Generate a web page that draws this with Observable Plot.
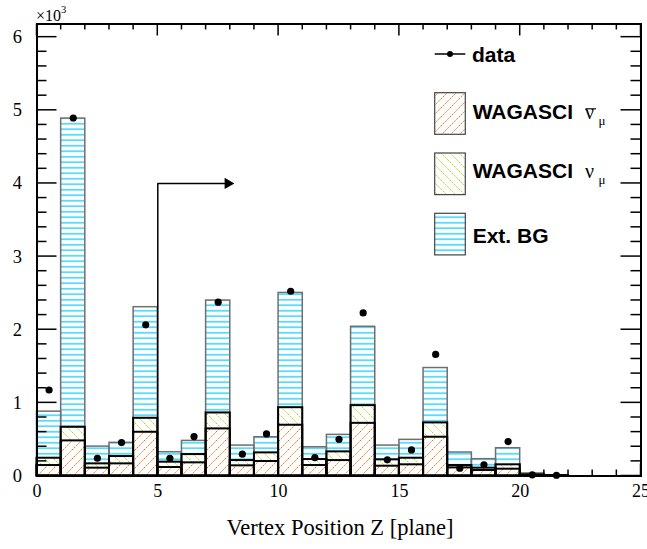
<!DOCTYPE html>
<html>
<head>
<meta charset="utf-8">
<script src="https://cdn.jsdelivr.net/npm/d3@7"></script>
<script src="https://cdn.jsdelivr.net/npm/@observablehq/plot@0.6"></script>
<style>
  html, body { margin: 0; padding: 0; background: #fff; }
  #chart svg { display: block; }
</style>
</head>
<body>
<div id="chart"></div>
<script>
// Vertex position (plane number) of selected events, stacked MC vs data
const planes   = [0, 1, 2, 3, 4, 5, 6, 7, 8, 9, 10, 11, 12, 13, 14, 15, 16, 17, 18, 19, 20, 21];
const antiNumu = [143, 480, 107, 166, 598, 116, 180, 644, 139, 198, 694, 143, 211, 720, 134, 153, 530, 111, 75, 93, 10, 3];
const numu     = [100, 186, 59, 100, 191, 73, 113, 218, 72, 118, 240, 82, 119, 242, 87, 90, 196, 32, 32, 60, 5, 2];
const extBG    = [637, 4221, 236, 187, 1519, 136, 187, 1537, 205, 214, 1569, 168, 232, 1078, 195, 251, 750, 178, 123, 227, 20, 3];
const observed = [1176, 4895, 243, 457, 2067, 243, 539, 2376, 298, 575, 2526, 252, 502, 2230, 221, 357, 1662, 107, 153, 471, 16, 10];

// fiducial cut marker: starts at plane 5 and points downstream
const cutArrow = [{x: 5, y: 0}, {x: 5, y: 4000}, {x: 7.9, y: 4000}];

const xMajor = [0, 5, 10, 15, 20, 25];
const xMinor = d3.range(0, 26, 1);
const yMajor = [0, 1000, 2000, 3000, 4000, 5000, 6000];
const yMinor = d3.range(0, 6001, 200);
const yMax = 6180;

const rows = planes.map((p, i) => {
  const a = antiNumu[i], n = numu[i], e = extBG[i];
  return {
    lo: p, hi: p + 1, mid: p + 0.5, zero: 0,
    anti: a, cumNu: a + n, total: a + n + e, data: observed[i]
  };
});

const serif = "'Liberation Serif', 'Times New Roman', serif";
const sans = "'Liberation Sans', Arial, Helvetica, sans-serif";

const chart = Plot.plot({
  width: 647,
  height: 549,
  marginLeft: 36.5,
  marginRight: 6.5,
  marginTop: 23.5,
  marginBottom: 73.5,
  style: {fontFamily: serif, fontSize: "18px", background: "#fff", color: "#000", overflow: "visible"},
  x: {domain: [0, 25]},
  y: {domain: [0, yMax]},
  marks: [
    // hatched bands
    Plot.rect(rows, {x1: "lo", x2: "hi", y1: "zero", y2: "anti", fill: "url(#hatch-anti)"}),
    Plot.rect(rows, {x1: "lo", x2: "hi", y1: "anti", y2: "cumNu", fill: "url(#hatch-nu)"}),
    Plot.rect(rows, {x1: "lo", x2: "hi", y1: "cumNu", y2: "total", fill: "url(#hatch-ext)"}),
    // histogram outlines of the cumulative stack
    Plot.rect(rows, {x1: "lo", x2: "hi", y1: "zero", y2: "total", fill: "none", stroke: "#6f6f6f", strokeWidth: 1.5}),
    Plot.rect(rows, {x1: "lo", x2: "hi", y1: "zero", y2: "cumNu", fill: "none", stroke: "#000", strokeWidth: 2}),
    Plot.rect(rows, {x1: "lo", x2: "hi", y1: "zero", y2: "anti", fill: "none", stroke: "#000", strokeWidth: 2}),
    // cut arrow
    Plot.line(cutArrow, {x: "x", y: "y", stroke: "#000", strokeWidth: 1.5}),
    Plot.dot(cutArrow.slice(-1), {x: "x", y: "y", symbol: "triangle", rotate: 90, r: 4.2, fill: "#000", stroke: "none"}),
    // data
    Plot.dot(rows, {x: "mid", y: "data", r: 3.6, fill: "#000", stroke: "none"}),
    Plot.frame({stroke: "#000", strokeWidth: 2}),
    Plot.axisX(xMajor, {anchor: "bottom", tickSize: 0, tickPadding: 8, fontSize: 18, fontFamily: serif, label: null}),
    Plot.axisY(yMajor, {anchor: "left", tickSize: 0, tickPadding: 15, fontSize: 18.5, fontFamily: serif, tickFormat: d => String(d / 1000), label: null})
  ]
});

document.getElementById("chart").appendChild(chart);

const svg = d3.select(chart);
const xs = chart.scale("x"), ys = chart.scale("y");

// hatch patterns
const defs = svg.insert("defs", ":first-child");
const anti = defs.append("pattern").attr("id", "hatch-anti")
  .attr("patternUnits", "userSpaceOnUse").attr("width", 9).attr("height", 9);
anti.append("path").attr("d", "M0,9 L9,0 M-2,2 L2,-2 M7,11 L11,7")
  .attr("stroke", "#ff6a00").attr("stroke-width", 1).attr("stroke-dasharray", "1.8 1.2").attr("fill", "none");
const nu = defs.append("pattern").attr("id", "hatch-nu")
  .attr("patternUnits", "userSpaceOnUse").attr("width", 9).attr("height", 9);
nu.append("path").attr("d", "M0,0 L9,9 M-2,7 L2,11 M7,-2 L11,2")
  .attr("stroke", "#a8dc00").attr("stroke-width", 1).attr("stroke-dasharray", "1.8 1.2").attr("fill", "none");
const ext = defs.append("pattern").attr("id", "hatch-ext")
  .attr("patternUnits", "userSpaceOnUse").attr("width", 8).attr("height", 5.5);
ext.append("line").attr("x1", 0).attr("x2", 8).attr("y1", 2.75).attr("y2", 2.75)
  .attr("stroke", "#00c8ff").attr("stroke-width", 1.2);

// inward-pointing ticks on all four sides
const [X0, X1] = xs.range, [Y0, Y1] = ys.range; // Y0 bottom, Y1 top
const tickG = svg.append("g").attr("stroke", "#000").attr("stroke-width", 1.5);
xMinor.forEach(v => {
  const len = xMajor.includes(v) ? 12 : 6, px = xs.apply(v);
  tickG.append("line").attr("x1", px).attr("x2", px).attr("y1", Y0).attr("y2", Y0 - len);
  tickG.append("line").attr("x1", px).attr("x2", px).attr("y1", Y1).attr("y2", Y1 + len);
});
yMinor.forEach(v => {
  const len = yMajor.includes(v) ? 20 : 10, py = ys.apply(v);
  tickG.append("line").attr("x1", X0).attr("x2", X0 + len).attr("y1", py).attr("y2", py);
  tickG.append("line").attr("x1", X1).attr("x2", X1 - len).attr("y1", py).attr("y2", py);
});

// axis exponent
const expo = svg.append("text").attr("x", 36).attr("y", 20.5).attr("text-anchor", "start")
  .attr("font-family", serif).attr("font-size", 16).attr("fill", "#000");
expo.append("tspan").text("\u00d710");
expo.append("tspan").attr("font-size", 10.5).attr("dy", -7.5).text("3");

// x-axis title
svg.append("text").attr("x", 340).attr("y", 535).attr("text-anchor", "middle")
  .attr("font-family", serif).attr("font-size", 22.5).attr("fill", "#000")
  .text("Vertex Position Z [plane]");

// legend
const leg = svg.append("g").attr("text-anchor", "start").attr("fill", "#000");
const bx = 434.7, bw = 30.6;
leg.append("line").attr("x1", bx).attr("x2", bx + bw).attr("y1", 54).attr("y2", 54)
  .attr("stroke", "#000").attr("stroke-width", 1.5);
leg.append("circle").attr("cx", bx + bw / 2).attr("cy", 54).attr("r", 3).attr("fill", "#000");
leg.append("text").attr("x", 472).attr("y", 61.5).attr("font-family", sans)
  .attr("font-weight", "bold").attr("font-size", 21).text("data");

const entries = [
  {fill: "url(#hatch-anti)", top: 92.7, label: "WAGASCI", base: 119.3, bar: true},
  {fill: "url(#hatch-nu)", top: 153, label: "WAGASCI", base: 178.3, bar: false},
  {fill: "url(#hatch-ext)", top: 213.3, label: "Ext. BG", base: 243, bar: null}
];
entries.forEach(e => {
  leg.append("rect").attr("x", bx).attr("y", e.top).attr("width", bw).attr("height", 41.6)
    .attr("fill", e.fill).attr("stroke", "#444").attr("stroke-width", 1.2);
  leg.append("text").attr("x", 472.7).attr("y", e.base).attr("font-family", sans)
    .attr("font-weight", "bold").attr("font-size", 21).text(e.label);
  if (e.bar !== null) {
    leg.append("text").attr("x", 585).attr("y", e.base).attr("font-family", serif)
      .attr("font-size", 20).text("\u03bd");
    leg.append("text").attr("x", 598.5).attr("y", e.base + 6).attr("font-family", serif)
      .attr("font-size", 13).text("\u03bc");
    if (e.bar) {
      leg.append("line").attr("x1", 585.5).attr("x2", 596).attr("y1", e.base - 10.5).attr("y2", e.base - 10.5)
        .attr("stroke", "#000").attr("stroke-width", 1.1);
    }
  }
});
</script>
</body>
</html>
